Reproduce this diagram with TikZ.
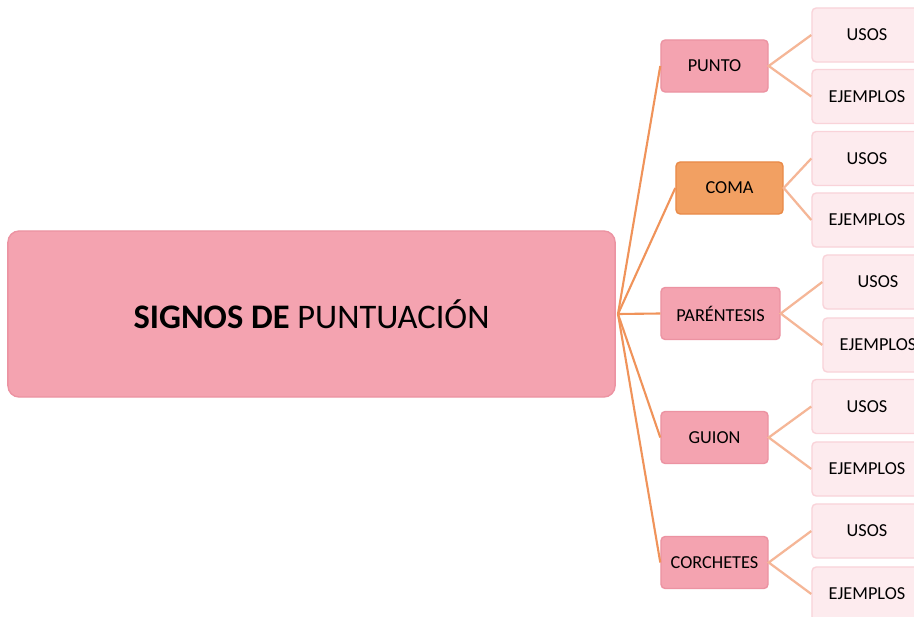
\documentclass[tikz,border=0pt]{standalone}
\usepackage{fontspec}
\setmainfont{Carlito}
\definecolor{mainpink}{HTML}{F4A3B0}
\definecolor{mainedge}{HTML}{EC93A2}
\definecolor{comaorange}{HTML}{F2A062}
\definecolor{comaedge}{HTML}{E98A48}
\definecolor{leafpink}{HTML}{FDEBEE}
\definecolor{leafedge}{HTML}{F9D3D9}
\definecolor{hubline}{HTML}{F0935A}
\definecolor{leafline}{HTML}{F5B697}
\begin{document}
\begin{tikzpicture}[x=0.025cm, y=-0.025cm,
    mainbox/.style={draw=mainedge, line width=1pt, fill=mainpink, rounded corners=8pt,
        minimum width=15.175cm, minimum height=4.15cm, font=\fontsize{24.5}{28}\selectfont},
    signbox/.style={draw=mainedge, line width=1pt, fill=mainpink, rounded corners=3pt,
        minimum width=2.675cm, minimum height=1.3cm, font=\fontsize{13}{15}\selectfont},
    leafbox/.style={draw=leafedge, line width=1pt, fill=leafpink, rounded corners=3pt,
        minimum width=2.75cm, minimum height=1.35cm, font=\fontsize{13}{15}\selectfont},
    hubedge/.style={draw=hubline, line width=1.5pt},
    leafedge/.style={draw=leafline, line width=1.6pt}]
    \clip (0,0) rectangle (914,617);
    \fill[white] (0,0) rectangle (914,617);
    % Central topic
    \node[mainbox] (signos) at (311.5,314) {\textbf{SIGNOS DE} PUNTUACIÓN};
    \coordinate (hub) at (618,314);
    % Punctuation signs
    \node[signbox] (punto) at (714.5,66) {PUNTO};
    \node[signbox, fill=comaorange, draw=comaedge] (coma) at (729.5,188) {COMA};
    \node[signbox, minimum width=2.975cm] (parentesis) at (720.5,313.5) {PARÉNTESIS};
    \node[signbox] (guion) at (714.5,437.5) {GUION};
    \node[signbox] (corchetes) at (714.5,562.5) {CORCHETES};
    % Branches from the central topic
    \foreach \s in {punto,coma,parentesis,guion,corchetes}
        \draw[hubedge] (hub) -- (\s.west);
    % Uses and examples
    \foreach \s/\x/\yu/\ye in {punto/867/35/96.5, coma/867/158.5/220,
            parentesis/878/282/345, guion/867/406.5/469, corchetes/867/531/594} {
        \node[leafbox] (\s-usos) at (\x,\yu) {USOS};
        \node[leafbox] (\s-ejemplos) at (\x,\ye) {EJEMPLOS};
        \draw[leafedge] (\s-usos.west) -- (\s.east) -- (\s-ejemplos.west);
    }
\end{tikzpicture}
\end{document}
